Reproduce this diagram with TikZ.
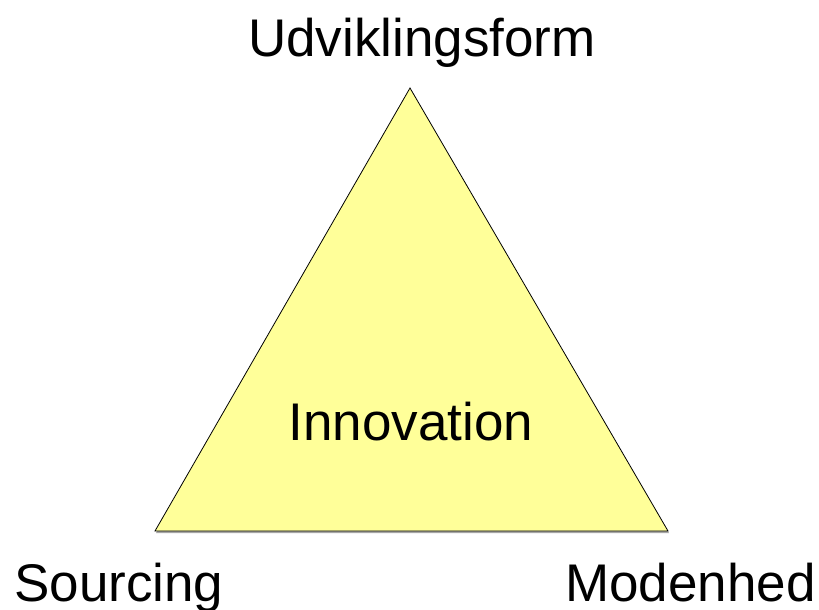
\documentclass[tikz,border=0pt]{standalone}
\usepackage{fontspec}
\setmainfont{Liberation Sans}
\definecolor{triyellow}{RGB}{255,255,153}
\tikzset{label text/.style={inner sep=0pt, font=\fontsize{53}{60}\selectfont}}
\begin{document}
\begin{tikzpicture}[x=1pt,y=-1pt]
        \useasboundingbox (0,0) rectangle (819,610);
        \coordinate (top) at (410,88);
        \coordinate (left) at (155,531);
        \coordinate (right) at (668,531);
        \fill[gray!70] ([shift={(1,2)}]top) -- ([shift={(1,2)}]left) -- ([shift={(1,2)}]right) -- cycle;
        \filldraw[fill=triyellow, draw=black, line width=0.8pt] (top) -- (left) -- (right) -- cycle;
        \node [label text, anchor=base] (form) at (422,57) {Udviklingsform};
        \node [label text, anchor=base] (inno) at (411,440) {Innovation};
        \node [label text, anchor=base west] (src) at (14,601) {Sourcing};
        \node [label text, anchor=base east] (mod) at (816,601) {Modenhed};
\end{tikzpicture}
\end{document}
